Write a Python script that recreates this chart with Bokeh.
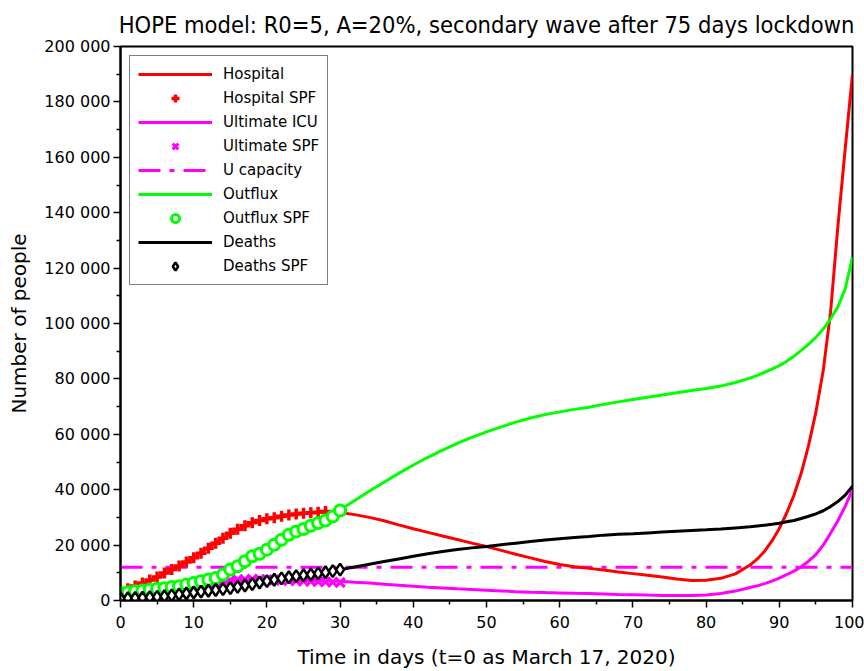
from bokeh.plotting import figure
from bokeh.models import Legend, LegendItem, FixedTicker, Range1d
from bokeh.embed import file_html
from bokeh.resources import INLINE

title_text = "HOPE model: R0=5, A=20%, secondary wave after 75 days lockdown"
x_label = "Time in days (t=0 as March 17, 2020)"
y_label = "Number of people"

# model time grid (days)
t_model = list(range(0, 87, 2)) + list(range(87, 101))

hospital = [3000, 4800, 7000, 9600, 12500, 15500, 19000, 22500, 25600, 28000,
            29500, 30500, 31200, 31700, 32100, 31800, 31000, 30000, 28800, 27300,
            25900, 24600, 23300, 22000, 20700, 19500, 18100, 16700, 15400, 14100,
            13000, 12200, 11600, 11000, 10300, 9700, 9100, 8500, 7800, 7250,
            7350, 8000, 9600, 12800,
            15000, 17800, 21500, 26000, 31500, 38000, 46000, 56000, 68000, 83000,
            104000, 135000, 163000, 190000]

icu = [1200, 1700, 2300, 3100, 4000, 5000, 6000, 7000, 7500, 7700,
       7500, 7300, 7200, 7100, 7000, 6950, 6600, 6300, 5900, 5500,
       5150, 4800, 4500, 4200, 3950, 3700, 3450, 3200, 3000, 2850,
       2750, 2600, 2500, 2350, 2200, 2100, 1950, 1850, 1800, 1800,
       2000, 2500, 3400, 4700,
       5300, 6100, 7000, 8100, 9300, 10600, 12200, 14200, 16600, 20000,
       24300, 28800, 34000, 40000]

outflux = [2700, 3300, 3900, 4400, 5100, 6300, 7500, 9300, 12300, 15900,
           18300, 21900, 24900, 27000, 28900, 32700, 36100, 39500, 42700, 45900,
           48900, 51700, 54300, 56700, 58900, 60900, 62700, 64400, 65900, 67100,
           68100, 69000, 69800, 70800, 71700, 72600, 73400, 74200, 75000, 75800,
           76500, 77400, 78700, 80300,
           81300, 82400, 83500, 84800, 86400, 88200, 90300, 92500, 95000, 98000,
           101700, 106000, 112500, 124000]

deaths = [700, 900, 1150, 1550, 2200, 2900, 3500, 4100, 4900, 5900,
          7000, 8000, 8800, 9400, 10200, 11150, 12100, 13100, 14050, 15000,
          15950, 16850, 17700, 18400, 19000, 19500, 20100, 20700, 21300, 21800,
          22300, 22750, 23100, 23600, 23900, 24100, 24400, 24700, 25000, 25300,
          25500, 25800, 26200, 26600,
          26900, 27200, 27500, 27900, 28400, 28900, 29600, 30400, 31300, 32400,
          33900, 35700, 38000, 41300]

# SPF observed data (daily)
t_hosp_spf = list(range(0, 29))
hospital_spf = [3300, 4200, 5200, 6300, 7400, 8500, 9900, 11200, 12500, 13900,
                15400, 17100, 18900, 20700, 22500, 24300, 25700, 27000, 28100, 28900,
                29500, 29900, 30400, 30900, 31200, 31500, 31700, 31900, 32100]

t_spf = list(range(0, 31))
icu_spf = [1200, 1400, 1700, 2000, 2300, 2700, 3100, 3500, 4000, 4500,
           5000, 5500, 6000, 6500, 7000, 7300, 7500, 7600, 7700, 7600,
           7500, 7400, 7300, 7200, 7100, 7000, 6900, 6800, 6700, 6600, 6500]
outflux_spf = [2750, 3000, 3350, 3600, 3950, 4200, 4450, 4900, 5150, 5750,
               6350, 6950, 7550, 8150, 9350, 11150, 12350, 14150, 15950, 16900,
               18350, 20150, 21950, 23750, 24950, 25800, 27000, 27950, 28900, 30350, 32500]
deaths_spf = [700, 800, 900, 1000, 1150, 1300, 1550, 1850, 2200, 2550,
              2900, 3200, 3500, 3800, 4100, 4450, 4900, 5400, 5900, 6500,
              7000, 7500, 8000, 8400, 8800, 9100, 9400, 9800, 10200, 10600, 11150]

capacity_t = [0, 100]
capacity = [12000, 12000]

x_ticks = [0, 10, 20, 30, 40, 50, 60, 70, 80, 90, 100]
x_minor = [5, 15, 25, 35, 45, 55, 65, 75, 85, 95]
y_ticks = [0, 20000, 40000, 60000, 80000, 100000, 120000, 140000, 160000, 180000, 200000]
y_minor = [10000, 30000, 50000, 70000, 90000, 110000, 130000, 150000, 170000, 190000]
y_tick_labels = ["0", "20 000", "40 000", "60 000", "80 000", "100 000",
                 "120 000", "140 000", "160 000", "180 000", "200 000"]

RED = "#ff0000"
MAG = "#ff00ff"
GRN = "#00ff00"
BLK = "#000000"
FONT = "DejaVu Sans"

p = figure(width=864, height=671, output_backend="svg", toolbar_location=None,
           x_range=Range1d(0, 100), y_range=Range1d(0, 200000),
           min_border_left=120, min_border_right=12, min_border_top=45, min_border_bottom=70)

p.title.text = title_text
p.title.align = "center"
p.title.text_font = "DejaVu Sans Condensed"
p.title.text_font_size = "23.5px"
p.title.text_font_style = "normal"
p.title.text_color = "#000000"
p.title.standoff = 16

p.xgrid.visible = False
p.ygrid.visible = False
p.outline_line_color = "black"
p.outline_line_width = 2
p.outline_line_alpha = 1.0

for ax in (p.xaxis[0], p.yaxis[0]):
    ax.axis_line_width = 2
    ax.major_tick_line_width = 1.5
    ax.minor_tick_line_width = 1.5
    ax.major_tick_in = 0
    ax.major_tick_out = 7
    ax.minor_tick_in = 0
    ax.minor_tick_out = 4
    ax.major_label_text_font = FONT
    ax.major_label_text_color = "black"
    ax.axis_label_text_font = FONT
    ax.axis_label_text_font_style = "normal"
    ax.axis_label_text_font_size = "20px"
    ax.axis_label_text_color = "black"

p.xaxis.ticker = FixedTicker(ticks=x_ticks, minor_ticks=x_minor)
p.yaxis.ticker = FixedTicker(ticks=y_ticks, minor_ticks=y_minor)
p.yaxis.major_label_overrides = {v: s for v, s in zip(y_ticks, y_tick_labels)}
p.xaxis.major_label_text_font_size = "16px"
p.yaxis.major_label_text_font_size = "16px"
p.xaxis.major_label_standoff = 8
p.yaxis.major_label_standoff = 3
p.xaxis.axis_label = x_label
p.yaxis.axis_label = y_label
p.xaxis.axis_label_standoff = 14
p.yaxis.axis_label_standoff = 10

r_cap = p.line(capacity_t, capacity, line_color=MAG, line_width=3, line_dash="22 9 5 9")
r_h = p.line(t_model, hospital, line_color=RED, line_width=3)
r_hs = p.scatter(t_hosp_spf, hospital_spf, marker="cross", size=11, line_color=RED, line_width=3.5)
r_u = p.line(t_model, icu, line_color=MAG, line_width=3)
r_us = p.scatter(t_spf, icu_spf, marker="x", size=13, line_color=MAG, line_width=3)
r_o = p.line(t_model, outflux, line_color=GRN, line_width=3)
r_os = p.scatter(t_spf, outflux_spf, marker="circle", size=11, line_color=GRN,
                 fill_color="white", line_width=3)
r_d = p.line(t_model, deaths, line_color=BLK, line_width=3)
r_ds = p.scatter(t_spf, deaths_spf, marker="diamond", size=12, line_color=BLK,
                 fill_color="white", line_width=2.5)

legend = Legend(items=[
    LegendItem(label="Hospital", renderers=[r_h]),
    LegendItem(label="Hospital SPF", renderers=[r_hs]),
    LegendItem(label="Ultimate ICU", renderers=[r_u]),
    LegendItem(label="Ultimate SPF", renderers=[r_us]),
    LegendItem(label="U capacity", renderers=[r_cap]),
    LegendItem(label="Outflux", renderers=[r_o]),
    LegendItem(label="Outflux SPF", renderers=[r_os]),
    LegendItem(label="Deaths", renderers=[r_d]),
    LegendItem(label="Deaths SPF", renderers=[r_ds]),
], location="top_left")
legend.margin = 9
legend.padding = 8
legend.spacing = 4
legend.glyph_width = 74
legend.glyph_height = 20
legend.label_standoff = 11
legend.label_height = 20
legend.label_text_font = FONT
legend.label_text_font_size = "15px"
legend.label_text_color = "black"
legend.border_line_color = "black"
legend.border_line_width = 1.5
legend.background_fill_color = "white"
legend.background_fill_alpha = 1.0
p.add_layout(legend, "center")

open("out.html", "w").write(file_html(p, INLINE))
